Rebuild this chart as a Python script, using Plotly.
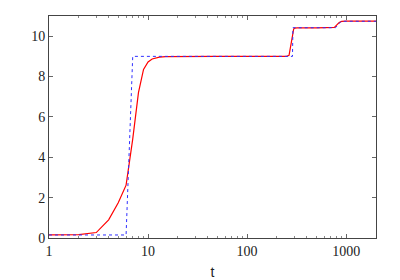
import plotly.graph_objects as go

# Red solid series (smooth response)
red_t = [1, 2, 3, 4, 5, 6, 7, 8, 9, 10, 11, 12, 13, 15, 20, 50, 100, 200, 250, 265, 275, 285, 295, 302, 320, 500, 700, 760, 800, 850, 900, 1000, 2000]
red_y = [0.15, 0.17, 0.27, 0.9, 1.75, 2.62, 4.9, 7.2, 8.35, 8.72, 8.87, 8.93, 8.96, 8.99, 9.0, 9.0, 9.0, 9.0, 9.0, 9.05, 9.5, 10.1, 10.35, 10.4, 10.41, 10.41, 10.41, 10.44, 10.55, 10.68, 10.73, 10.75, 10.75]

# Blue dotted series (step reference)
blue_t = [1, 6, 7, 287, 290, 780, 890, 2000]
blue_y = [0.15, 0.15, 9.0, 9.0, 10.42, 10.42, 10.74, 10.74]

x_major = [1, 10, 100, 1000]
x_major_labels = ["1", "10", "100", "1000"]
x_minor = [m * d for d in [1, 10, 100, 1000] for m in range(2, 10) if m * d <= 2000]
y_ticks = [0, 2, 4, 6, 8, 10]

SERIF = "Times New Roman, Liberation Serif, DejaVu Serif, serif"

fig = go.Figure()
fig.add_trace(go.Scatter(x=red_t, y=red_y, mode="lines",
                         line=dict(color="#ff0000", width=1.2), showlegend=False))
fig.add_trace(go.Scatter(x=blue_t, y=blue_y, mode="lines",
                         line=dict(color="#3030ff", width=1, dash="dot"), showlegend=False))

axis_common = dict(showline=True, linecolor="#444444", linewidth=1, mirror="ticks",
                   ticks="inside", tickcolor="#666666", ticklen=4, showgrid=False,
                   zeroline=False,
                   tickfont=dict(family=SERIF, size=14, color="#222222"))

fig.update_xaxes(type="log", range=[0, 3.301], tickmode="array",
                 tickvals=x_major, ticktext=x_major_labels,
                 minor=dict(ticks="inside", ticklen=2, tickcolor="#888888",
                            tickvals=x_minor, showgrid=False),
                 title=dict(text="t", font=dict(family="Liberation Sans, Arial, sans-serif",
                                                size=14, color="#222222"),
                            standoff=9),
                 **axis_common)
fig.update_yaxes(range=[0, 11], tickmode="array", tickvals=y_ticks, **axis_common)

fig.update_layout(width=400, height=280,
                  font=dict(family=SERIF, color="#222222"),
                  margin=dict(l=41, r=32, t=8, b=50, autoexpand=False),
                  plot_bgcolor="white", paper_bgcolor="white")

fig.write_html("out.html")
